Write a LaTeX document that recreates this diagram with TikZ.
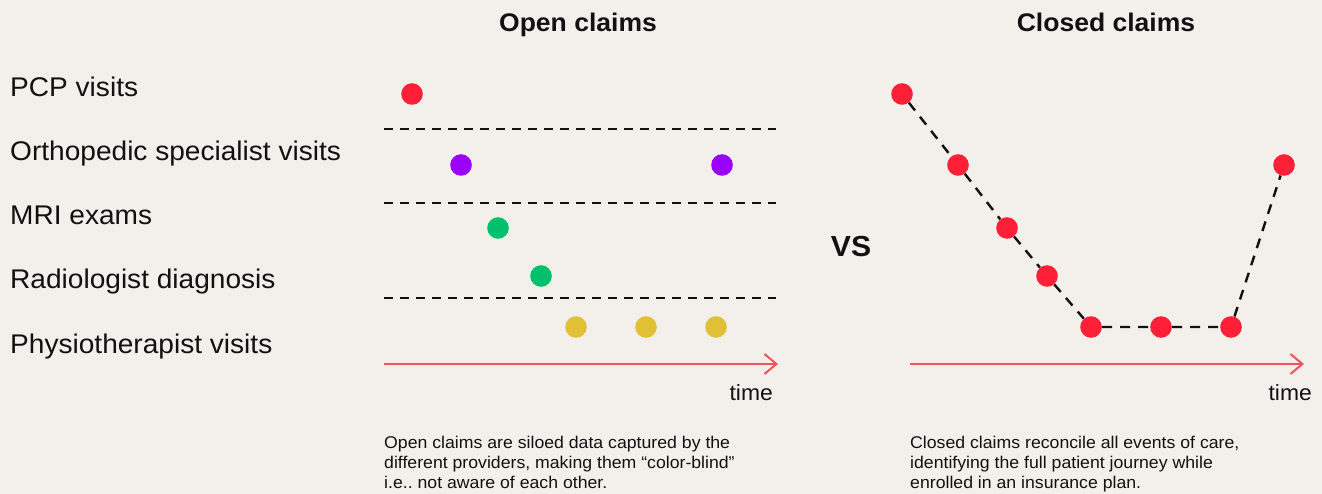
\documentclass[tikz,border=0pt]{standalone}
\usepackage{fontspec}
\setmainfont{Liberation Sans}[FakeStretch=1.04]
\usepackage{xcolor}
\usetikzlibrary{arrows.meta}
\definecolor{paper}{HTML}{F3F0EB}
\definecolor{ink}{HTML}{111111}
\definecolor{pcp}{HTML}{FF2038}
\definecolor{ortho}{HTML}{9900FF}
\definecolor{mri}{HTML}{00C06E}
\definecolor{physio}{HTML}{E0C035}
\definecolor{axisred}{HTML}{F4525C}
\frenchspacing
\tikzset{
  title/.style={text=ink, font=\bfseries\fontsize{25.5}{30}\selectfont, inner sep=0pt, anchor=base},
  lbl/.style={text=ink, font=\fontsize{27}{30}\selectfont, inner sep=0pt, anchor=base west},
  timelbl/.style={text=ink, font=\fontsize{22}{26}\selectfont, inner sep=0pt, anchor=base east},
  note/.style={text=ink, font=\fontsize{17}{20}\selectfont, inner sep=0pt, anchor=north west, align=left},
  dot/.style={circle, inner sep=0pt, minimum size=21.6pt},
  sep/.style={draw=ink, line width=2.4pt, dash pattern=on 9pt off 7pt},
  link/.style={draw=ink, line width=2.4pt, dash pattern=on 10pt off 8pt},
  axis/.style={draw=axisred, line width=2pt, -{Straight Barb[length=12pt,width=20pt,line width=2pt]}}
}

\begin{document}
\begin{tikzpicture}[x=1pt, y=-1pt]
\useasboundingbox[fill=paper] (0,0) rectangle (1322,494);

% titles
\node[title] (open) at (578,32) {Open claims};
\node[title] (closed) at (1106,32) {Closed claims};

% row labels
\node[lbl] (pcpl) at (10,97) {PCP visits};
\node[lbl] (orthol) at (10,161) {Orthopedic specialist visits};
\node[lbl] (mril) at (10,225) {MRI exams};
\node[lbl] (radl) at (10,289) {Radiologist diagnosis};
\node[lbl] (physl) at (10,353) {Physiotherapist visits};

% separators of the open claims rows
\foreach \y in {129,203,298}
  \draw[sep] (384,\y) -- (776,\y);

% open claims events
\node[dot, fill=pcp] (o1) at (412,94) {};
\node[dot, fill=ortho] (o2) at (461,165) {};
\node[dot, fill=ortho] (o3) at (722,165) {};
\node[dot, fill=mri] (o4) at (498,228) {};
\node[dot, fill=mri] (o5) at (541,276) {};
\node[dot, fill=physio] (o6) at (576,327) {};
\node[dot, fill=physio] (o7) at (646,327) {};
\node[dot, fill=physio] (o8) at (716,327) {};

% closed claims journey
\node[dot, fill=pcp] (c1) at (902,94) {};
\node[dot, fill=pcp] (c2) at (958,165) {};
\node[dot, fill=pcp] (c3) at (1007,228) {};
\node[dot, fill=pcp] (c4) at (1047,276) {};
\node[dot, fill=pcp] (c5) at (1091,327) {};
\node[dot, fill=pcp] (c6) at (1161,327) {};
\node[dot, fill=pcp] (c7) at (1231,327) {};
\node[dot, fill=pcp] (c8) at (1284,165) {};
\draw[link] (c1) -- (c2) -- (c3) -- (c4) -- (c5) -- (c6) -- (c7) -- (c8);

\node[text=ink, font=\bfseries\fontsize{29}{34}\selectfont, inner sep=0pt, anchor=base] (vs) at (851,257) {VS};

% time axes
\coordinate (ta) at (384,364);
\coordinate (tb) at (778,364);
\coordinate (tc) at (910,364);
\coordinate (td) at (1304,364);
\draw[axis] (ta) -- (tb);
\draw[axis] (tc) -- (td);
\node[timelbl] (timel) at (773,400) {time};
\node[timelbl] (timer) at (1312,400) {time};

% notes
\node[note] (opennote) at (384,436) {Open claims are siloed data captured by the\\different providers, making them “color-blind”\\i.e.. not aware of each other.};
\node[note] (closednote) at (910,436) {Closed claims reconcile all events of care,\\identifying the full patient journey while\\enrolled in an insurance plan.};
\end{tikzpicture}
\end{document}
